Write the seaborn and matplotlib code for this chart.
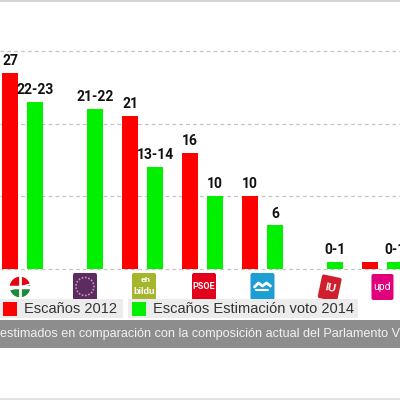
import matplotlib
matplotlib.use("Agg")
import matplotlib.pyplot as plt
import matplotlib.patches as mpatches
import matplotlib.transforms as mt
import seaborn as sns
import pandas as pd

# ---- data ----
parties = ["PNV", "Podemos", "EH Bildu", "PSOE", "PP", "IU", "UPyD"]
seats_2012 = [27, 0, 21, 16, 10, 0, 1]
seats_2014 = [23, 22, 14, 10, 6, 1, 1]
labels_2012 = ["27", "", "21", "16", "10", "", ""]
labels_2014 = ["22-23", "21-22", "13-14", "10", "6", "0-1", "0-1"]
series_names = ["Escaños 2012", "Escaños Estimación voto 2014"]
caption = "estimados en comparación con la composición actual del Parlamento V"

RED = "#ff0000"
GREEN = "#00f000"

df = pd.DataFrame({
    "party": parties * 2,
    "seats": seats_2012 + seats_2014,
    "series": [series_names[0]] * len(parties) + [series_names[1]] * len(parties),
})

sns.set_style("white")
plt.rcParams["font.family"] = ["Liberation Sans", "DejaVu Sans"]

W, H = 400, 400
fig = plt.figure(figsize=(4, 4), dpi=100)
fig.patch.set_facecolor("white")

def fx(x):
    return x / W

def fy(y):
    return 1 - y / H

# main bar axes: baseline at px 269, top of figure = 37 seats
ax = fig.add_axes([0, fy(271.2), 1, (271.2) / H])
sns.barplot(data=df, x="party", y="seats", hue="series", order=parties,
            hue_order=series_names, palette=[RED, GREEN], saturation=1,
            width=0.83, gap=0.33, ax=ax, legend=False, linewidth=0)
ax.set_xlim(-0.375, 6.292)
ax.set_ylim(-0.3, 37)
ax.set_yticks([0, 10, 20, 30])
ax.yaxis.grid(True, linestyle=(0, (3, 2.5)), color="#c4c4c4", linewidth=0.9)
ax.set_axisbelow(True)
ax.tick_params(left=False, bottom=False, labelleft=False, labelbottom=False)
ax.set_xlabel("")
ax.set_ylabel("")
for s in ax.spines.values():
    s.set_visible(False)
ax.set_facecolor("none")

for cont, labs in zip(ax.containers, [labels_2012, labels_2014]):
    ax.bar_label(cont, labels=labs, padding=3.5, fontsize=10,
                 fontweight="bold", family=["Roboto", "DejaVu Sans"], color="#111111")

# ---- party logos (decorative tick labels) ----
lax = fig.add_axes([0, fy(301), 1, 30 / H])
lax.set_xlim(0, 400)
lax.set_ylim(0, 30)
lax.axis("off")
xmin = ax.get_xlim()[0]
unit = W / (ax.get_xlim()[1] - ax.get_xlim()[0])
centers = [(i - xmin) * unit for i in range(len(parties))]

def box(cx, color, w=24, h=27, angle=0):
    r = mpatches.FancyBboxPatch((cx - w / 2, 1), w, h, boxstyle="round,pad=0,rounding_size=2",
                                facecolor=color, edgecolor="none")
    if angle:
        r.set_transform(mt.Affine2D().rotate_deg_around(cx, 14.5, angle) + lax.transData)
    lax.add_patch(r)

# PNV
cx = centers[0] - 2.5
lax.add_patch(mpatches.Wedge((cx, 14), 11, 15, 195, facecolor="#e30613"))
lax.add_patch(mpatches.Wedge((cx, 14), 11, 195, 375, facecolor="#1f8a3c"))
lax.plot([cx - 11, cx + 11], [14, 14], color="white", lw=2.5)
lax.plot([cx, cx], [3, 25], color="white", lw=2.0)
# Podemos
cx = centers[1] + 2.5
box(cx, "#5d2b60")
lax.add_patch(mpatches.Circle((cx, 14.5), 9, facecolor="none", edgecolor="#b89bba",
                              lw=1.2, linestyle=(0, (1, 1))))
# EH Bildu
cx = centers[2] + 1.5
box(cx, "#a6b62c")
lax.text(cx + 2, 20, "eh", color="white", fontsize=6, ha="center", va="center", fontweight="bold")
lax.text(cx, 9, "bildu", color="white", fontsize=6.5, ha="center", va="center", fontweight="bold")
# PSOE
cx = centers[3] + 1.5
box(cx, "#e3001b")
lax.text(cx, 14.5, "PSOE", color="white", fontsize=6.5, ha="center", va="center",
         fontweight="bold", family=["Roboto", "DejaVu Sans"])
# PP
cx = centers[4]
box(cx, "#1e9fd4")
lax.plot([cx - 8, cx - 4, cx, cx + 4, cx + 8], [14, 18, 15, 18, 15], color="white", lw=2)
lax.plot([cx - 6, cx + 6], [11, 11], color="white", lw=1.5)
# IU
cx = centers[5] + 7.5
box(cx, "#cf1f2c", w=20, h=24, angle=-12)
lax.text(cx, 13, "IU", color="white", fontsize=8, ha="center", va="center",
         fontweight="bold", rotation=-12)
# UPyD
cx = centers[6]
box(cx, "#e0007b", w=22, h=26)
lax.text(cx, 14, "upd", color="white", fontsize=7.5, ha="center", va="center",
         family=["Roboto", "DejaVu Sans"])

# ---- legend (two grey boxes) ----
def rect(x0, y0, x1, y1, color):
    fig.patches.append(mpatches.Rectangle((fx(x0), fy(y1)), fx(x1) - fx(x0), fy(y0) - fy(y1),
                                          transform=fig.transFigure, facecolor=color,
                                          edgecolor="none", zorder=1))

rect(0, 299, 123, 318, "#ececec")
rect(3, 302, 17, 316, RED)
fig.text(fx(24), fy(309), series_names[0], fontsize=10.5, color="#333333", va="center", ha="left")
rect(128, 299, 358, 318, "#ececec")
rect(132, 302, 146, 316, GREEN)
fig.text(fx(153), fy(309), series_names[1], fontsize=10.5, color="#333333", va="center", ha="left")

# ---- caption band ----
band = mpatches.Rectangle((0, fy(348)), 1, fy(320) - fy(348), transform=fig.transFigure,
                          facecolor="#8d8d8d", edgecolor="none", zorder=1)
fig.patches.append(band)
fig.text(fx(0.5), fy(334), caption, fontsize=9.1, color="#f2f2f2", va="center", ha="left")

# frame lines
fig.add_artist(plt.Line2D([0, 1], [fy(0.8), fy(0.8)], transform=fig.transFigure, color="#d4d4d4", lw=1.5))
fig.add_artist(plt.Line2D([0, 1], [fy(399), fy(399)], transform=fig.transFigure, color="#dcdcdc", lw=1.2))

fig.savefig("out.png", dpi=100, facecolor="white")
